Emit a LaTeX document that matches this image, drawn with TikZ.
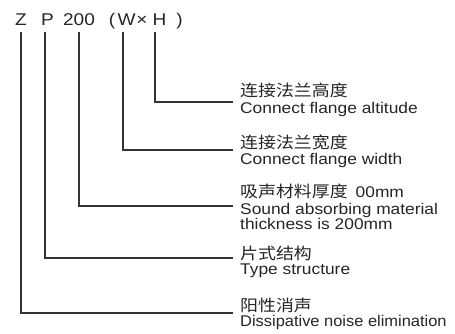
\documentclass[tikz,border=0pt]{standalone}
\usepackage{fontspec}
\setmainfont[FakeStretch=1.12]{Liberation Sans}
\newfontfamily\cjkf[FakeStretch=1.12]{Noto Sans CJK SC}
\newfontfamily\disf[FakeStretch=1.06]{Liberation Sans}
\definecolor{ink}{HTML}{262626}
\definecolor{wire}{HTML}{333333}
\tikzset{
  hd/.style={anchor=base, inner sep=0pt, text=ink, font=\fontsize{17}{19}\selectfont},
  en/.style={anchor=base west, inner sep=0pt, text=ink, font=\fontsize{15.5}{17}\selectfont},
  zh/.style={anchor=base west, inner sep=0pt, text=ink, font=\fontsize{16}{18}\cjkf},
  lead/.style={draw=wire, line width=1.1pt}
}
\begin{document}
\begin{tikzpicture}[x=1pt,y=-1pt]
\useasboundingbox[fill=white] (0,0) rectangle (455,333);
% header
\node[hd] (cZ) at (21,25) {Z};
\node[hd] (cP) at (47.5,25) {P};
\node[hd] (c200) at (79,25) {200};
\node[hd] (lp) at (112,25) {(};
\node[hd] (cW) at (126.5,25) {W};
\node[hd] (cx) at (142,25) {×};
\node[hd] (cH) at (159.5,25) {H};
\node[hd] (rp) at (179.5,25) {)};
% start points under the header
\coordinate (sZ) at (21,32);
\coordinate (sP) at (45,32);
\coordinate (s200) at (79,32);
\coordinate (sW) at (123,32);
\coordinate (sH) at (155,32);
% end points
\coordinate (eH) at (233,102);
\coordinate (eW) at (233,150);
\coordinate (e200) at (233,206);
\coordinate (eP) at (233,258);
\coordinate (eZ) at (233,313);
% leaders
\draw[lead] (sH) |- (eH);
\draw[lead] (sW) |- (eW);
\draw[lead] (s200) |- (e200);
\draw[lead] (sP) |- (eP);
\draw[lead] (sZ) |- (eZ);
% descriptions
\node[zh] (h1) at (240,96) {连接法兰高度};
\node[en] (h2) at (240,113) {Connect flange altitude};
\node[zh] (w1) at (240,148) {连接法兰宽度};
\node[en] (w2) at (240,164) {Connect flange width};
\node[zh] (t1) at (240,197) {吸声材料厚度\hspace{8pt}{\fontsize{15.5}{17}\rmfamily 00mm}};
\node[en] (t2) at (240,214) {Sound absorbing material};
\node[en] (t3) at (240,229) {thickness is 200mm};
\node[zh] (p1) at (240,259) {片式结构};
\node[en] (p2) at (240,274) {Type structure};
\node[zh] (z1) at (240,311) {阳性消声};
\node[en, font=\fontsize{15.5}{17}\disf] (z2) at (240,326) {Dissipative noise elimination};
\end{tikzpicture}
\end{document}
